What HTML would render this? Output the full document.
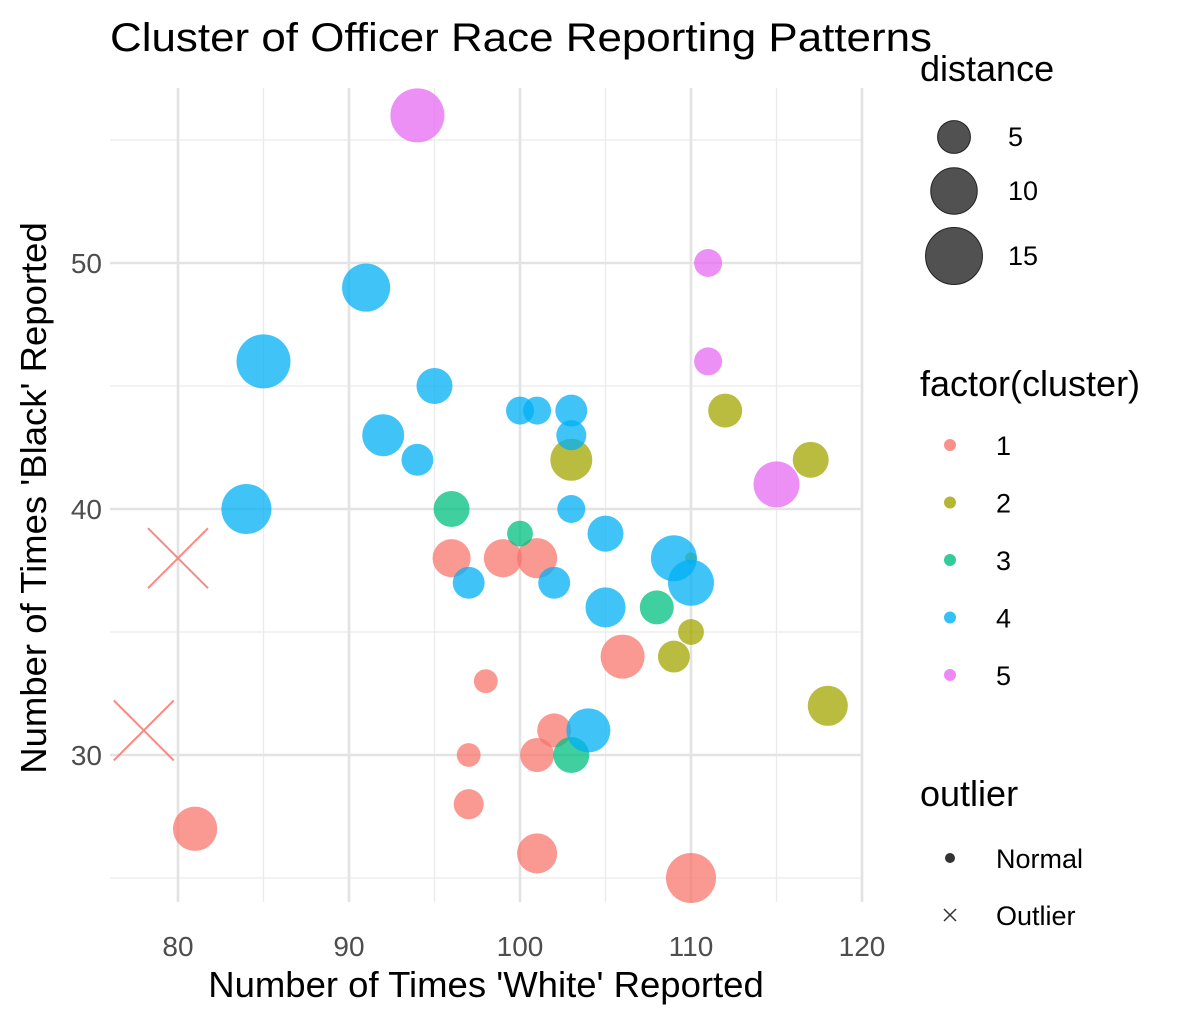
<!DOCTYPE html>
<html><head><meta charset="utf-8"><style>
body{margin:0;background:#fff;}
svg text{font-family:"Liberation Sans",Arial,sans-serif;}
</style></head><body>
<svg id="chart" width="1180" height="1022" viewBox="0 0 1180 1022" xmlns="http://www.w3.org/2000/svg">
<rect width="1180" height="1022" fill="#fff"/>
<g id="grid"></g>
<g id="marks"></g>
<g id="axes"></g>
<text x="110" y="51" font-size="40" fill="#000" textLength="822" lengthAdjust="spacingAndGlyphs">Cluster of Officer Race Reporting Patterns</text>
<text x="486" y="997" font-size="36.5" text-anchor="middle">Number of Times 'White' Reported</text>
<text transform="translate(46,498) rotate(-90)" font-size="36.5" text-anchor="middle">Number of Times 'Black' Reported</text>
<g id="legend"></g>
</svg>
<script>
const xs=[81,96,99,101,106,98,102,101,97,97,101,110, 103,112,117,110,109,118,110, 96,100,108,103, 91,85,95,100,101,103,103,92,94,84,103,105,97,102,105,109,110,104, 94,111,111,115];
const ys=[27,38,38,38,34,33,31,30,30,28,26,25, 42,44,42,35,34,32,38, 40,39,36,30, 49,46,45,44,44,44,43,43,42,40,40,39,37,37,36,38,37,31, 56,50,46,41];
const clusters=[1,1,1,1,1,1,1,1,1,1,1,1, 2,2,2,2,2,2,2, 3,3,3,3, 4,4,4,4,4,4,4,4,4,4,4,4,4,4,4,4,4,4, 5,5,5,5];
const dists=[10,7.4,7.4,8.2,9.9,2.9,5.9,5.9,2.9,4.6,8.2,12.8, 9,5.9,6.6,3.4,5.2,8.2,0.7, 6.6,3.4,5.9,6.6, 11.8,14.9,6.6,4,4,5.2,4.6,9,5.2,12.8,4,6.6,5.2,5.2,8.2,10.8,10.8,9.9, 14.9,4,4,10.8];
const outX=[80,78];
const outY=[38,31];
const xTicks=[80,90,100,110,120];
const yTicks=[30,40,50];
const colors={1:"#F8766D",2:"#A3A500",3:"#00BF7D",4:"#00B0F6",5:"#E76BF3"};
const X=v=>178+(v-80)*17.1;
const Y=v=>509-(v-40)*24.6;
const R=d=>7*Math.sqrt(d);
const NS="http://www.w3.org/2000/svg";
function mk(p,t,a){const e=document.createElementNS(NS,t);for(const k in a)e.setAttribute(k,a[k]);p.appendChild(e);return e;}
const grid=document.getElementById('grid'),marks=document.getElementById('marks'),axes=document.getElementById('axes'),leg=document.getElementById('legend');
for(let v=85;v<=115;v+=10){const l=mk(grid,'line',{x1:X(v),x2:X(v),y1:88,y2:902,stroke:'#ebebeb','stroke-width':1.3});

}
for(let v=25;v<=55;v+=10){const l=mk(grid,'line',{x1:110,x2:862,y1:Y(v),y2:Y(v),stroke:'#ebebeb','stroke-width':1.3});

}
xTicks.forEach(v=>{const l=mk(grid,'line',{x1:X(v),x2:X(v),y1:88,y2:902,stroke:'#e3e3e3','stroke-width':2.6});


const t=mk(axes,'text',{x:X(v),y:956,'font-size':28,fill:'#4d4d4d','text-anchor':'middle'});t.textContent=v;

});
yTicks.forEach(v=>{const l=mk(grid,'line',{x1:110,x2:862,y1:Y(v),y2:Y(v),stroke:'#e3e3e3','stroke-width':2.6});


const t=mk(axes,'text',{x:102,y:Y(v)+10,'font-size':28,fill:'#4d4d4d','text-anchor':'end'});t.textContent=v;

});
xs.forEach((x,i)=>{const c=mk(marks,'circle',{cx:X(x),cy:Y(ys[i]),r:R(dists[i]),fill:colors[clusters[i]],'fill-opacity':0.75});

});
outX.forEach((x,i)=>{const cx=X(x),cy=Y(outY[i]),s=30;
const p=mk(marks,'path',{d:`M${cx-s} ${cy-s}L${cx+s} ${cy+s}M${cx-s} ${cy+s}L${cx+s} ${cy-s}`,stroke:'#F8766D','stroke-opacity':0.85,'stroke-width':2});

});
function txt(x,y,s,str,name){const t=mk(leg,'text',{x:x,y:y,'font-size':s,fill:'#000'});t.textContent=str;

}
txt(920,81,36,'distance','legend-title-distance');
[[5,137],[10,191],[15,256]].forEach(([d,y])=>{const c=mk(leg,'circle',{cx:954,cy:y,r:R(d)*1.05,fill:'#333','fill-opacity':0.85,stroke:'#222'});


txt(1008,y+9,27,d,'legend-size-label');});
txt(920,396,36,'factor(cluster)','legend-title-cluster');
[1,2,3,4,5].forEach((k,i)=>{const y=445+i*57.5;const c=mk(leg,'circle',{cx:950,cy:y,r:6,fill:colors[k],'fill-opacity':0.8});


txt(996,y+10,27,k,'legend-cluster-label');});
txt(920,806,36,'outlier','legend-title-outlier');
const nd=mk(leg,'circle',{cx:950,cy:858,r:5,fill:'#333'});


txt(996,868,27,'Normal','legend-normal-label');
const ox=mk(leg,'path',{d:'M944 909L956 921M944 921L956 909',stroke:'#333','stroke-width':1.5});


txt(996,925,27,'Outlier','legend-outlier-label');
</script>
</body></html>
